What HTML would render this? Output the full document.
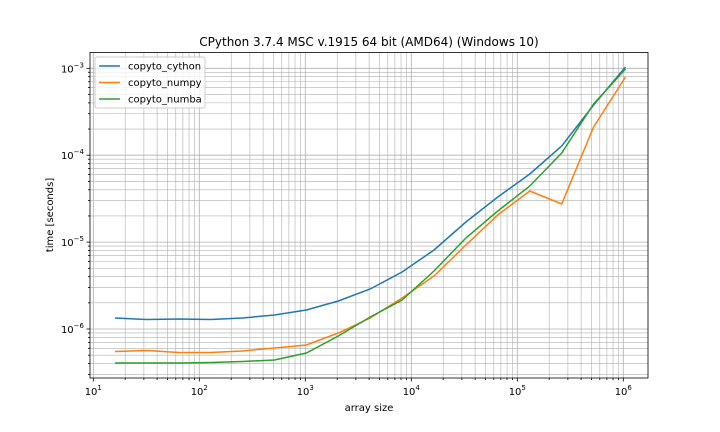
<!DOCTYPE html><html><head><style>body{margin:0;background:#fff}svg{display:block;font-family:"DejaVu Sans","Liberation Sans",sans-serif}</style></head><body>
<svg width="720" height="432" id="s" xmlns="http://www.w3.org/2000/svg"></svg>
<script>
const L=90,R=648,T=52.5,B=378;
const X=l=>93.3+106*(l-1), Y=l=>68.3-86.9*(l+3);
let s='<rect width="720" height="432" fill="#fff"/>';
let g='',t='';
for(let d=1;d<=6;d++)for(let m=1;m<10;m++){const l=d+Math.log10(m);const x=X(l);if(x<L||x>R)continue;
g+=`<line x1="${x}" x2="${x}" y1="${T}" y2="${B}" stroke="#b0b0b0" stroke-width="${m==1?0.8:0.6}"/>`;
t+=`<line x1="${x}" x2="${x}" y1="${B}" y2="${B+(m==1?3.5:2)}" stroke="#000" stroke-width="0.8"/>`;
if(m==1)t+=`<text x="${x}" y="${B+17}" font-size="10" text-anchor="middle">10<tspan dy="-5" font-size="7">${d}</tspan></text>`;}
for(let d=-7;d<=-3;d++)for(let m=1;m<10;m++){const l=d+Math.log10(m);const y=Y(l);if(y<T||y>B)continue;
g+=`<line x1="${L}" x2="${R}" y1="${y}" y2="${y}" stroke="#b0b0b0" stroke-width="${m==1?0.8:0.6}"/>`;
t+=`<line x1="${L}" x2="${L-(m==1?3.5:2)}" y1="${y}" y2="${y}" stroke="#000" stroke-width="0.8"/>`;
if(m==1)t+=`<text x="${L-6}" y="${y+4}" font-size="10" text-anchor="end">10<tspan dy="-5" font-size="7">−${-d}</tspan></text>`;}
s+=g;
const data={"#1f77b4":[318,319.5,319,319.5,318,315,310,301,289,272,250,222,197,174,146,105,67],
"#ff7f0e":[351.5,350.5,352.5,352.5,351,348,345,333,318,298,276,245,215,191,204,127,77],
"#2ca02c":[363,363,363,362.5,361.5,360,353,336,317,300,271,238,211,186,153,104,69]};
for(const c in data){s+=`<polyline fill="none" stroke="${c}" stroke-width="1.5" points="${data[c].map((y,i)=>X((i+4)*0.30103).toFixed(1)+','+y).join(' ')}"/>`;}
s+=`<rect x="${L}" y="${T}" width="${R-L}" height="${B-T}" fill="none" stroke="#000" stroke-width="0.8"/>`+t;
s+=`<rect x="95" y="57" width="110" height="51" rx="2" fill="#fff" fill-opacity="0.8" stroke="#ccc"/>`;
[["#1f77b4","copyto_cython"],["#ff7f0e","copyto_numpy"],["#2ca02c","copyto_numba"]].forEach((e,i)=>{const y=66+i*16.5;
s+=`<line x1="99" x2="120" y1="${y}" y2="${y}" stroke="${e[0]}" stroke-width="1.5"/><text x="128" y="${y+3.5}" font-size="10">${e[1]}</text>`;});
s+=`<text x="369" y="46" font-size="12" text-anchor="middle">CPython 3.7.4 MSC v.1915 64 bit (AMD64) (Windows 10)</text>`;
s+=`<text x="369" y="411" font-size="10" text-anchor="middle">array size</text>`;
s+=`<text transform="translate(53,215) rotate(-90)" font-size="10" text-anchor="middle">time [seconds]</text>`;
document.getElementById('s').innerHTML=s;
</script></body></html>
